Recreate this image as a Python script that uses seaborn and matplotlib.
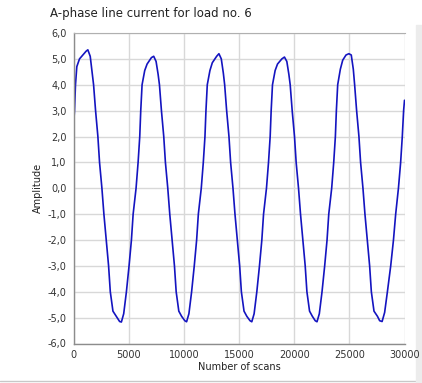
import matplotlib
matplotlib.use("Agg")
import matplotlib.pyplot as plt
from matplotlib.patches import Rectangle
from matplotlib.lines import Line2D
from matplotlib.ticker import FuncFormatter
import pandas as pd
import seaborn as sns

# values, one list pair per half cycle
start_x = [0, 30, 90, 180, 300, 545, 850, 1150, 1300]
start_y = [1.0, 2.6, 3.0, 4.0, 4.7, 5.0, 5.15, 5.3, 5.35]

fall1_x = [1515, 1700, 1820, 2000, 2210, 2360, 2575, 2755, 2970, 3180, 3335, 3575, 3880, 4180, 4340]
fall1_y = [5.1, 4.45, 4.0, 3.0, 2.0, 1.0, 0.0, -1.0, -2.0, -3.0, -4.0, -4.75, -4.95, -5.15, -5.17]
rise1_x = [4550, 4795, 5035, 5250, 5405, 5670, 5855, 6005, 6095, 6215, 6455, 6670, 7065, 7270]
rise1_y = [-4.85, -4.0, -3.0, -2.0, -1.0, 0.0, 1.0, 2.0, 3.0, 4.0, 4.55, 4.8, 5.05, 5.1]

fall2_x = [7485, 7670, 7790, 7970, 8180, 8330, 8545, 8725, 8940, 9150, 9305, 9545, 9800, 10090, 10250]
fall2_y = [4.9, 4.4, 4.0, 3.0, 2.0, 1.0, 0.0, -1.0, -2.0, -3.0, -4.0, -4.75, -4.95, -5.12, -5.16]
rise2_x = [10460, 10705, 10945, 11160, 11315, 11580, 11765, 11915, 12005, 12125, 12365, 12580, 12975, 13180]
rise2_y = [-4.85, -4.0, -3.0, -2.0, -1.0, 0.0, 1.0, 2.0, 3.0, 4.0, 4.55, 4.85, 5.1, 5.2]

fall3_x = [13395, 13580, 13700, 13880, 14090, 14240, 14455, 14635, 14850, 15060, 15215, 15455, 15710, 16000, 16160]
fall3_y = [5.0, 4.45, 4.0, 3.0, 2.0, 1.0, 0.0, -1.0, -2.0, -3.0, -4.0, -4.75, -4.95, -5.12, -5.16]
rise3_x = [16370, 16615, 16855, 17070, 17225, 17490, 17675, 17825, 17915, 18035, 18275, 18490, 18885, 19120]
rise3_y = [-4.85, -4.0, -3.0, -2.0, -1.0, 0.0, 1.0, 2.0, 3.0, 4.0, 4.55, 4.8, 5.0, 5.07]

fall4_x = [19335, 19520, 19640, 19820, 20030, 20180, 20395, 20575, 20790, 21000, 21155, 21395, 21650, 21910, 22070]
fall4_y = [4.9, 4.4, 4.0, 3.0, 2.0, 1.0, 0.0, -1.0, -2.0, -3.0, -4.0, -4.75, -4.95, -5.12, -5.16]
rise4_x = [22280, 22525, 22765, 22980, 23135, 23400, 23585, 23735, 23825, 23945, 24185, 24400, 24700, 24960]
rise4_y = [-4.85, -4.0, -3.0, -2.0, -1.0, 0.0, 1.0, 2.0, 3.0, 4.0, 4.6, 4.95, 5.15, 5.2]

fall5_x = [25175, 25360, 25480, 25660, 25870, 26020, 26235, 26415, 26630, 26840, 26995, 27235, 27550, 27750, 27970]
fall5_y = [5.15, 4.6, 4.0, 3.0, 2.0, 1.0, 0.0, -1.0, -2.0, -3.0, -4.0, -4.75, -4.95, -5.12, -5.15]
rise5_x = [28200, 28450, 28750, 29000, 29200, 29450, 29650, 29800, 29920, 30000]
rise5_y = [-4.8, -4.0, -3.0, -2.0, -1.0, 0.0, 1.0, 2.0, 3.0, 3.4]

x_ticks = [0, 5000, 10000, 15000, 20000, 25000, 30000]
y_ticks = [-6, -5, -4, -3, -2, -1, 0, 1, 2, 3, 4, 5, 6]

scans = (start_x + fall1_x + rise1_x + fall2_x + rise2_x + fall3_x + rise3_x
         + fall4_x + rise4_x + fall5_x + rise5_x)
amps = (start_y + fall1_y + rise1_y + fall2_y + rise2_y + fall3_y + rise3_y
        + fall4_y + rise4_y + fall5_y + rise5_y)
df = pd.DataFrame({"scan": scans, "amplitude": amps})

sns.set_style("white")
plt.rcParams["font.family"] = ["DejaVu Sans"]

fig = plt.figure(figsize=(4.22, 3.83), dpi=100)

# window frame on the right and bottom, kept behind the axes
fig.patches.append(Rectangle((416 / 422, 0), 6 / 422, 1 - 25 / 383,
                             transform=fig.transFigure, color="#ececec", zorder=-5))
fig.lines.append(Line2D([0, 1], [1 - 381 / 383] * 2, transform=fig.transFigure,
                        color="#c8c8c8", lw=1, zorder=-5))

ax = fig.add_axes([73.5 / 422, 1 - 343.5 / 383, (404.5 - 73.5) / 422, (343.5 - 33) / 383])
ax.patch.set_alpha(0)

sns.lineplot(data=df, x="scan", y="amplitude", ax=ax, color="#1414c0",
             lw=1.2, sort=False, estimator=None)

ax.set_xlim(0, 30000)
ax.set_ylim(-6, 6)
ax.set_xticks(x_ticks)
ax.set_yticks(y_ticks)
ax.xaxis.set_major_formatter(FuncFormatter(lambda v, p: f"{int(v)}"))
ax.yaxis.set_major_formatter(FuncFormatter(lambda v, p: f"{v:.1f}".replace(".", ",")))
ax.grid(True, color="#d8d8d8", lw=1)
ax.set_axisbelow(True)

for side in ["left", "bottom"]:
    ax.spines[side].set_color("#8c8c8c")
    ax.spines[side].set_linewidth(1)
ax.spines["top"].set_color("#b0b0b0")
ax.spines["right"].set_visible(False)

ax.tick_params(axis="both", direction="out", length=3.5, width=1, color="#707070",
               labelsize=7, labelcolor="#333333", pad=1.5)

ax.set_xlabel("Number of scans", fontsize=7, color="#222222", labelpad=1)
ax.set_ylabel("Amplitude", fontsize=7, color="#222222", labelpad=3)

fig.text(50 / 422, 1 - 14 / 383, "A-phase line current for load no. 6",
         fontsize=8.5, color="#222222", ha="left", va="center")

fig.savefig("out.png", dpi=100)
